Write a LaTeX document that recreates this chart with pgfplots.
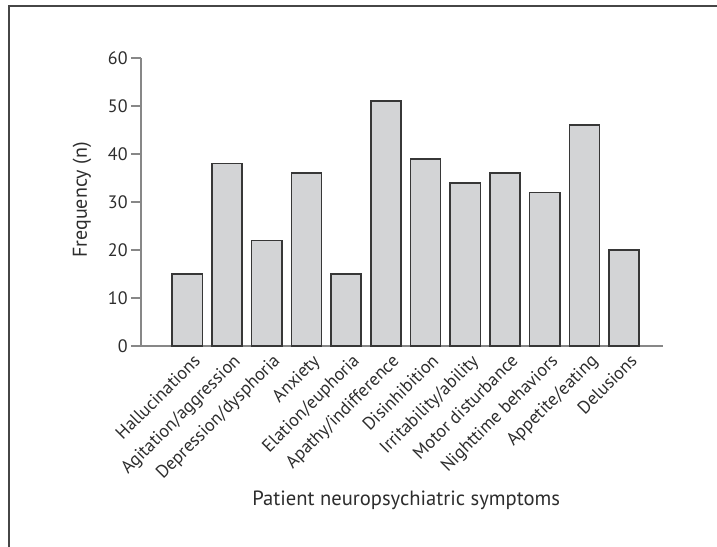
\documentclass[border=0pt]{standalone}
\usepackage{pgfplots}
\pgfplotsset{compat=1.18}
\usepackage{fontspec}
\setmainfont{PT Sans}
\definecolor{barfill}{RGB}{211,212,214}
\definecolor{baredge}{RGB}{55,55,55}
\definecolor{axgray}{RGB}{135,135,135}
\definecolor{txt}{RGB}{45,45,45}
\definecolor{frame}{RGB}{70,70,70}
\begin{document}
\begin{tikzpicture}
\begin{axis}[
  at={(70.5pt,100pt)}, anchor=south west,
  scale only axis, width=261pt, height=144pt,
  xmin=-1.167, xmax=11.98, ymin=0, ymax=60,
  axis x line=bottom, axis y line=left,
  axis line style={-, draw=axgray, line width=0.6pt},
  tick align=outside,
  major tick length=5pt,
  /pgf/number format/assume math mode=true,
  ytick={0,10,...,60},
  ytick style={draw=axgray, line width=0.6pt},
  yticklabel style={font=\fontsize{9}{10}\selectfont, text=txt, inner sep=1.5pt},
  xtick={0,...,11},
  xticklabels={Hallucinations,Agitation/aggression,Depression/dysphoria,Anxiety,Elation/euphoria,Apathy/indifference,Disinhibition,Irritability/ability,Motor disturbance,Nighttime behaviors,Appetite/eating,Delusions},
  xtick style={draw=none},
  xticklabel style={font=\fontsize{9}{10}\selectfont, text=txt, rotate=45, anchor=north east, inner sep=0pt, xshift=3pt, yshift=-0.5pt},
  extra x ticks={-0.5,0.5,...,11.5},
  extra x tick labels={},
  extra x tick style={tick style={draw=axgray, line width=0.6pt}},
  xlabel={Patient neuropsychiatric symptoms},
  xlabel style={at={(axis description cs:0.508,-0.535)}, anchor=center, font=\fontsize{10.3}{12}\selectfont, text=txt},
  ylabel={Frequency (n)},
  ylabel style={at={(axis description cs:-0.113,0.507)}, anchor=center, font=\fontsize{10}{12}\selectfont, text=txt},
  clip=false,
]
\addplot[ybar, bar width=0.76, fill=barfill, draw=baredge, line width=0.75pt]
  coordinates {(0,15) (1,38) (2,22) (3,36) (4,15) (5,51) (6,39) (7,34) (8,36) (9,32) (10,46) (11,20)};
\end{axis}
\draw[frame, line width=1pt] (4.25pt,-5pt) -- (4.25pt,269.75pt) -- (365pt,269.75pt);
\pgfresetboundingbox
\path[use as bounding box] (0,0) rectangle (358.5pt,273pt);
\end{tikzpicture}
\end{document}
